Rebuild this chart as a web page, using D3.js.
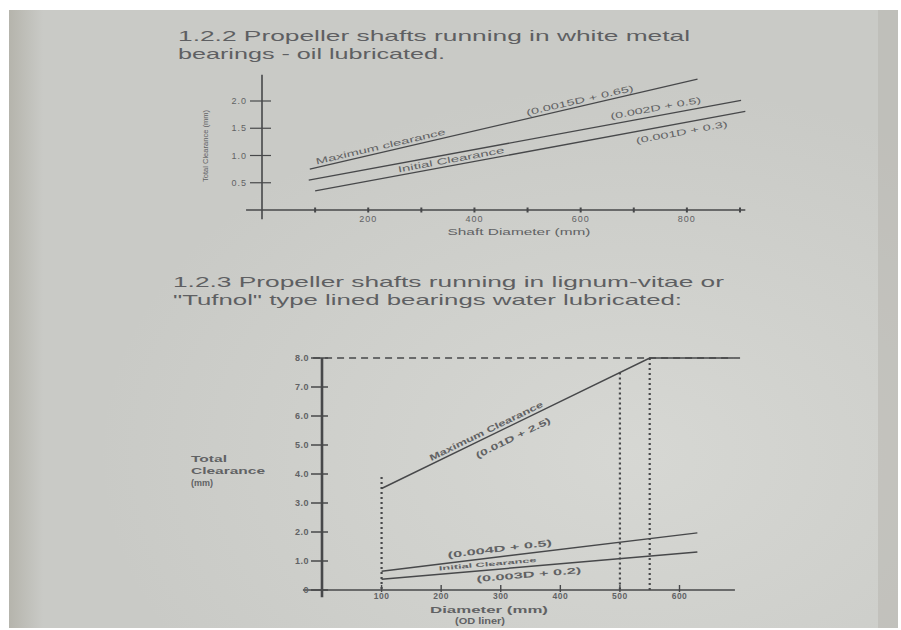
<!DOCTYPE html>
<html>
<head>
<meta charset="utf-8">
<title>Propeller shaft clearances</title>
<script src="https://d3js.org/d3.v7.min.js"></script>
<style>
  body { margin: 0; background: #fff; }
  svg { display: block; }
  text { font-family: "Liberation Sans", "DejaVu Sans", sans-serif; fill: #616264; }
</style>
</head>
<body>
<div id="chart"></div>
<script>
// 1.2.2 white metal bearings - oil lubricated
var oilXMarks = [100, 200, 300, 400, 500, 600, 700, 800, 900];
var oilXLabels = [200, 400, 600, 800];
var oilYTicks = [0.5, 1.0, 1.5, 2.0];
var oilMaxD = [90, 820], oilMaxV = [0.75, 2.40];
var oilUpperD = [88, 902], oilUpperV = [0.55, 2.01];
var oilLowerD = [100, 910], oilLowerV = [0.35, 1.81];

// 1.2.3 lignum-vitae / "Tufnol" lined bearings - water lubricated
var waterYTicks = [0, 1, 2, 3, 4, 5, 6, 7, 8];
var waterXTicks = [100, 200, 300, 400, 500, 600];
var waterMaxD = [100, 550, 690], waterMaxV = [3.5, 8.0, 8.0];
var waterUpperD = [100, 630], waterUpperV = [0.65, 1.97];
var waterLowerD = [100, 630], waterLowerV = [0.37, 1.31];
var waterDropD = [100, 500, 550], waterDropTop = [3.9, 7.5, 8.0];

var width = 901, height = 630;
var ink = "#47484a";

var svg = d3.select("#chart").append("svg")
    .attr("width", width)
    .attr("height", height);

// photographed page
var defs = svg.append("defs");
var glow = defs.append("radialGradient").attr("id", "glow")
    .attr("cx", 0.7).attr("cy", 0.72).attr("r", 0.6);
glow.append("stop").attr("offset", "0%").attr("stop-color", "#d8d9d5").attr("stop-opacity", 0.9);
glow.append("stop").attr("offset", "100%").attr("stop-color", "#d8d9d5").attr("stop-opacity", 0);
var edge = defs.append("linearGradient").attr("id", "edge");
edge.append("stop").attr("offset", "0%").attr("stop-color", "#b5b4ac");
edge.append("stop").attr("offset", "100%").attr("stop-color", "#c9cac6");

svg.append("rect").attr("x", 9).attr("y", 10).attr("width", 889).attr("height", 618).attr("fill", "#c9cac6");
svg.append("rect").attr("x", 9).attr("y", 10).attr("width", 889).attr("height", 618).attr("fill", "url(#glow)");
svg.append("rect").attr("x", 9).attr("y", 10).attr("width", 34).attr("height", 618).attr("fill", "url(#edge)");
svg.append("rect").attr("x", 878).attr("y", 10).attr("width", 20).attr("height", 618).attr("fill", "#b5b4ae").attr("opacity", 0.5);

function title(lines, x, y0, lens) {
    lines.forEach(function(t, i) {
        svg.append("text")
            .attr("x", x).attr("y", y0 + i * 18)
            .attr("textLength", lens[i]).attr("lengthAdjust", "spacingAndGlyphs")
            .style("font-size", "15px")
            .style("fill", "#5e5f62")
            .text(t);
    });
}

function lineOf(xs, ys) {
    return d3.line().x(function(d) { return xs(d[0]); }).y(function(d) { return ys(d[1]); });
}

function zip(a, b) { return a.map(function(d, i) { return [d, b[i]]; }); }

// text laid along a line segment
function along(g, xs, ys, D, V, atD, offset, txt, size, len, weight) {
    var x0 = xs(D[0]), y0 = ys(V[0]), x1 = xs(D[D.length - 1]), y1 = ys(V[V.length - 1]);
    var ang = Math.atan2(y1 - y0, x1 - x0);
    var t = (atD - D[0]) / (D[D.length - 1] - D[0]);
    var px = xs(atD) - offset * Math.sin(ang);
    var py = y0 + t * (y1 - y0) + offset * Math.cos(ang);
    g.append("text")
        .attr("transform", "translate(" + px + "," + py + ") rotate(" + (ang * 180 / Math.PI) + ")")
        .attr("text-anchor", "middle").attr("dy", "0.35em")
        .attr("textLength", len).attr("lengthAdjust", "spacingAndGlyphs")
        .style("font-size", size + "px")
        .style("font-weight", weight || 400)
        .text(txt);
}

// ---------- chart 1 ----------
title(["1.2.2 Propeller shafts running in white metal", "bearings - oil lubricated."], 178, 41, [512, 267]);

var x1 = d3.scaleLinear().domain([0, 900]).range([262, 740]);
var y1 = d3.scaleLinear().domain([0, 2]).range([210, 101]);
var g1 = svg.append("g");

g1.append("line")
    .attr("x1", x1(0)).attr("x2", x1(0))
    .attr("y1", y1(2.48)).attr("y2", y1(-0.17))
    .attr("stroke", ink).attr("stroke-width", 1.6);
g1.append("line")
    .attr("x1", x1(-30)).attr("x2", x1(910))
    .attr("y1", y1(0)).attr("y2", y1(0))
    .attr("stroke", ink).attr("stroke-width", 1.4);

g1.selectAll(".ytick").data(oilYTicks).enter().append("line")
    .attr("x1", x1(0) - 12).attr("x2", x1(0) + 9)
    .attr("y1", function(d) { return y1(d); }).attr("y2", function(d) { return y1(d); })
    .attr("stroke", ink).attr("stroke-width", 1.2);
g1.selectAll(".ylab").data(oilYTicks).enter().append("text")
    .attr("x", x1(0) - 15).attr("y", function(d) { return y1(d); })
    .attr("dy", "0.35em").attr("text-anchor", "end")
    .style("font-size", "9px").style("letter-spacing", "1px")
    .text(function(d) { return d.toFixed(1); });

g1.selectAll(".xmark").data(oilXMarks).enter().append("line")
    .attr("x1", function(d) { return x1(d); }).attr("x2", function(d) { return x1(d); })
    .attr("y1", y1(0) - 2.5).attr("y2", y1(0) + 2.5)
    .attr("stroke", ink).attr("stroke-width", 2);
g1.selectAll(".xlab").data(oilXLabels).enter().append("text")
    .attr("x", function(d) { return x1(d); }).attr("y", y1(0) + 12)
    .attr("text-anchor", "middle")
    .style("font-size", "9px").style("letter-spacing", "1px")
    .text(function(d) { return d; });

g1.append("text").attr("x", 519).attr("y", 235).attr("text-anchor", "middle")
    .attr("textLength", 143).attr("lengthAdjust", "spacingAndGlyphs")
    .style("font-size", "9px").text("Shaft Diameter (mm)");
g1.append("text").attr("transform", "translate(205,146) rotate(-90)")
    .attr("text-anchor", "middle").attr("dy", "0.35em")
    .attr("textLength", 72).attr("lengthAdjust", "spacingAndGlyphs")
    .style("font-size", "8px").text("Total Clearance (mm)");

[[oilMaxD, oilMaxV], [oilUpperD, oilUpperV], [oilLowerD, oilLowerV]].forEach(function(s) {
    g1.append("path").datum(zip(s[0], s[1]))
        .attr("d", lineOf(x1, y1))
        .attr("fill", "none").attr("stroke", ink).attr("stroke-width", 1.3);
});

along(g1, x1, y1, oilMaxD, oilMaxV, 226, -6, "Maximum clearance", 8.5, 133);
along(g1, x1, y1, oilMaxD, oilMaxV, 601, -6, "(0.0015D + 0.65)", 8.5, 110);
along(g1, x1, y1, oilUpperD, oilUpperV, 744, -8, "(0.002D + 0.5)", 8.5, 92);
along(g1, x1, y1, oilLowerD, oilLowerV, 358, -6, "Initial Clearance", 8.5, 108);
along(g1, x1, y1, oilLowerD, oilLowerV, 787, 9, "(0.001D + 0.3)", 8.5, 93);

// ---------- chart 2 ----------
title(["1.2.3 Propeller shafts running in lignum-vitae or", "\"Tufnol\" type lined bearings water lubricated:"], 173, 287, [551, 509]);

var x2 = d3.scaleLinear().domain([0, 600]).range([322, 679.5]);
var y2 = d3.scaleLinear().domain([0, 8]).range([590, 358]);
var g2 = svg.append("g");

// dashed 8.0 limit
g2.append("line")
    .attr("x1", x2(-15)).attr("x2", x2(705))
    .attr("y1", y2(8)).attr("y2", y2(8))
    .attr("stroke", ink).attr("stroke-width", 1.3).attr("stroke-dasharray", "7,5");

g2.append("line")
    .attr("x1", x2(0)).attr("x2", x2(0))
    .attr("y1", y2(8)).attr("y2", y2(-0.25))
    .attr("stroke", ink).attr("stroke-width", 2.6);
g2.append("line")
    .attr("x1", x2(-32)).attr("x2", x2(693))
    .attr("y1", y2(0)).attr("y2", y2(0))
    .attr("stroke", ink).attr("stroke-width", 1.6);

g2.selectAll(".ytick").data(waterYTicks).enter().append("line")
    .attr("x1", x2(0) - 11).attr("x2", x2(0) + 6)
    .attr("y1", function(d) { return y2(d); }).attr("y2", function(d) { return y2(d); })
    .attr("stroke", ink).attr("stroke-width", 1.5);
g2.selectAll(".ylab").data(waterYTicks).enter().append("text")
    .attr("x", x2(0) - 13).attr("y", function(d) { return y2(d); })
    .attr("dy", "0.35em").attr("text-anchor", "end")
    .style("font-size", "9px").style("font-weight", 700).style("letter-spacing", "0.5px")
    .text(function(d) { return d === 0 ? "0" : d.toFixed(1); });

g2.selectAll(".xtick").data(waterXTicks).enter().append("line")
    .attr("x1", function(d) { return x2(d); }).attr("x2", function(d) { return x2(d); })
    .attr("y1", y2(0) - 5).attr("y2", y2(0) + 2)
    .attr("stroke", ink).attr("stroke-width", 1.4);
g2.selectAll(".xlab").data(waterXTicks).enter().append("text")
    .attr("x", function(d) { return x2(d); }).attr("y", y2(0) + 9)
    .attr("text-anchor", "middle")
    .style("font-size", "8.5px").style("font-weight", 700).style("letter-spacing", "0.5px")
    .text(function(d) { return d; });

g2.append("text").attr("x", 489).attr("y", 613).attr("text-anchor", "middle")
    .attr("textLength", 118).attr("lengthAdjust", "spacingAndGlyphs")
    .style("font-size", "9px").style("font-weight", 700).text("Diameter (mm)");
g2.append("text").attr("x", 480).attr("y", 624).attr("text-anchor", "middle")
    .attr("textLength", 50).attr("lengthAdjust", "spacingAndGlyphs")
    .style("font-size", "9px").style("font-weight", 700).text("(OD liner)");

[["Total", 36], ["Clearance", 74], ["(mm)", 22]].forEach(function(l, i) {
    g2.append("text").attr("x", 191).attr("y", 462 + i * 12)
        .attr("textLength", l[1]).attr("lengthAdjust", "spacingAndGlyphs")
        .style("font-size", "9.5px").style("font-weight", 700).text(l[0]);
});

// dotted drop lines
g2.selectAll(".drop").data(waterDropD).enter().append("line")
    .attr("x1", function(d) { return x2(d); }).attr("x2", function(d) { return x2(d); })
    .attr("y1", function(d, i) { return y2(waterDropTop[i]); }).attr("y2", y2(0))
    .attr("stroke", ink).attr("stroke-width", 2.2).attr("stroke-dasharray", "2,3");

[[waterMaxD, waterMaxV], [waterUpperD, waterUpperV], [waterLowerD, waterLowerV]].forEach(function(s) {
    g2.append("path").datum(zip(s[0], s[1]))
        .attr("d", lineOf(x2, y2))
        .attr("fill", "none").attr("stroke", ink).attr("stroke-width", 1.5);
});

var slopeD = waterMaxD.slice(0, 2), slopeV = waterMaxV.slice(0, 2);
along(g2, x2, y2, slopeD, slopeV, 280, -6, "Maximum Clearance", 8.5, 125, 700);
along(g2, x2, y2, slopeD, slopeV, 312, 12, "(0.01D + 2.5)", 8.5, 82, 700);
along(g2, x2, y2, waterUpperD, waterUpperV, 300, -8, "(0.004D + 0.5)", 8.5, 105, 700);
along(g2, x2, y2, waterLowerD, waterLowerV, 279, -6, "Initial Clearance", 6, 98, 700);
along(g2, x2, y2, waterLowerD, waterLowerV, 346, 8, "(0.003D + 0.2)", 8.5, 105, 700);
</script>
</body>
</html>
